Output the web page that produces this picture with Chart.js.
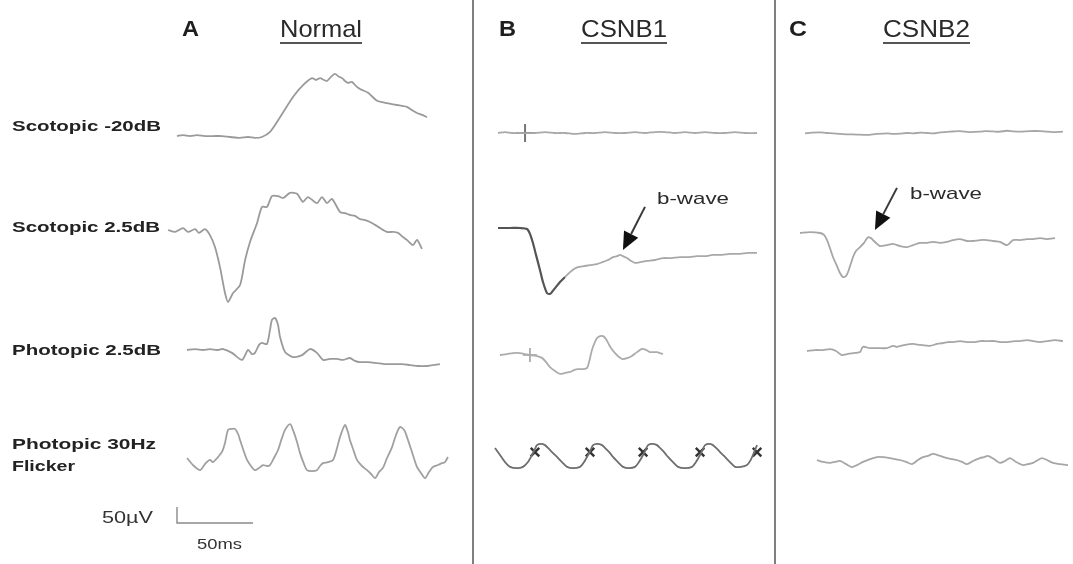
<!DOCTYPE html>
<html>
<head>
<meta charset="utf-8">
<title>ERG: Normal, CSNB1, CSNB2</title>
<script src="https://cdn.jsdelivr.net/npm/chart.js@4.4.1/dist/chart.umd.min.js"></script>
<style>
  html, body { margin: 0; padding: 0; background: #fff; overflow: hidden; }
  #erg { display: block; }
</style>
</head>
<body>
<canvas id="erg" width="1073" height="564"></canvas>
<script>
// panels and rows
const panelLetters = ['A', 'B', 'C'];
const panelTitles = ['Normal', 'CSNB1', 'CSNB2'];
const rowLabels = [['Scotopic -20dB'], ['Scotopic 2.5dB'], ['Photopic 2.5dB'], ['Photopic 30Hz', 'Flicker']];

// traces: [time in ms from trace start, amplitude in µV from baseline]
const normalScot20 = [[0,3],[3.9,6],[8.6,3],[13.2,6],[18.4,3],[23.7,3],[29.6,3],[34.9,0],[41.4,-3],[46.7,0],[51.3,-3],[55.9,0],[61.2,16],[67.8,62],[76.3,125],[82.9,162],[88.8,184],[91.4,178],[94.1,184],[96.7,178],[98.7,175],[101.3,188],[103.9,197],[106.6,188],[108.6,184],[110.5,175],[112.5,169],[115.1,172],[117.8,159],[120.4,150],[125.7,138],[131.6,113],[134.9,109],[138.2,106],[141.4,103],[144.7,100],[148.0,97],[151.3,94],[154.6,84],[157.9,75],[161.2,69],[164.5,62]];
const normalScot25 = [[0,0],[4.6,-6],[9.9,6],[13.2,-6],[17.8,3],[20.4,-9],[24.3,3],[27.6,-16],[30.9,-53],[34.2,-116],[37.5,-197],[39.5,-225],[42.8,-197],[47.4,-172],[50.7,-94],[53.9,-38],[58.6,22],[61.8,72],[65.1,72],[68.4,106],[72.4,106],[75.7,100],[80.3,116],[84.9,113],[88.8,88],[92.1,103],[98.0,84],[101.3,103],[104.6,84],[107.9,97],[113.2,56],[116.4,53],[119.7,47],[123.0,44],[126.3,34],[129.6,31],[132.9,25],[136.2,16],[139.5,6],[144.1,-6],[148.0,-6],[151.3,-9],[154.6,-22],[157.2,-31],[161.2,-47],[163.8,-31],[167.1,-59]];
const normalPhot25 = [[0,0],[5.3,3],[10.5,0],[15.1,3],[19.7,0],[23.7,3],[29.6,-9],[36.2,-31],[40.1,0],[42.8,-13],[44.7,-9],[47.4,16],[49.3,22],[52.6,19],[54.6,63],[55.9,94],[57.9,100],[59.9,78],[61.2,41],[64.5,-6],[69.7,-22],[75.7,-16],[80.9,3],[85.5,-9],[89.5,-31],[94.1,-28],[98.7,-28],[102.6,-31],[107.2,-25],[110.5,-34],[113.8,-38],[119.1,-38],[125.0,-41],[130.3,-44],[135.5,-44],[141.4,-44],[146.7,-47],[151.9,-50],[157.9,-50],[161.8,-47],[166.4,-44]];
const normalFlicker = [[0,0],[3.9,-22],[8.6,-38],[11.8,-19],[15.1,-6],[17.1,-13],[20.4,3],[23.0,19],[25.0,47],[27.0,88],[29.6,91],[31.6,91],[33.6,75],[34.9,56],[37.5,19],[39.5,-6],[42.1,-25],[44.7,-38],[47.4,-31],[50.0,-22],[52.6,-25],[54.6,-22],[57.2,0],[59.9,25],[62.5,63],[64.5,88],[67.8,106],[69.7,88],[72.4,50],[74.3,16],[77.0,-19],[78.9,-38],[82.2,-41],[85.5,-38],[87.5,-25],[89.5,-16],[92.8,-13],[96.1,-6],[98.7,31],[100.7,66],[103.9,103],[105.9,81],[107.2,56],[109.9,19],[111.8,-6],[115.1,-25],[118.4,-38],[121.1,-50],[123.7,-63],[126.3,-44],[128.9,-31],[131.6,0],[134.9,34],[137.5,72],[140.1,97],[142.8,88],[144.7,66],[148.0,19],[151.3,-28],[153.9,-47],[156.6,-63],[159.2,-44],[161.8,-28],[165.1,-22],[167.8,-16],[169.7,-13],[171.7,3]];

const csnb1Scot20 = [[0,0],[4.6,3],[9.2,0],[14.5,0],[24.3,0],[30.9,3],[37.5,0],[44.1,0],[50.7,-3],[57.2,0],[63.8,0],[70.4,3],[77.0,0],[83.6,0],[90.1,3],[96.7,0],[103.3,3],[109.9,3],[116.4,0],[123.0,3],[129.6,0],[136.2,3],[142.8,0],[149.3,0],[155.9,3],[162.5,0],[170.4,0]];
const csnb1Scot25 = [[0,0],[7.9,0],[14.5,0],[19.1,-3],[21.1,-19],[23.0,-47],[25.0,-84],[27.6,-131],[29.6,-169],[32.2,-203],[34.2,-206],[35.5,-200],[38.2,-184],[40.8,-169],[44.1,-153],[47.4,-138],[50.0,-128],[52.6,-122],[56.6,-119],[60.5,-116],[65.1,-113],[69.1,-106],[72.4,-100],[75.7,-91],[78.3,-88],[80.3,-84],[82.2,-88],[84.9,-94],[87.5,-103],[90.1,-109],[94.1,-106],[98.0,-103],[103.3,-100],[108.6,-94],[113.8,-94],[119.7,-91],[125.7,-91],[130.9,-88],[136.2,-88],[141.4,-84],[147.4,-84],[152.6,-81],[159.2,-81],[164.5,-78],[170.4,-78]];
const csnb1Phot25 = [[0,0],[4.6,3],[8.6,6],[13.2,6],[16.4,3],[19.1,0],[23.7,-3],[27.6,-9],[30.3,-22],[32.9,-38],[36.2,-50],[39.5,-59],[42.8,-56],[46.1,-53],[48.7,-47],[51.3,-44],[54.6,-44],[57.2,-41],[58.6,-22],[60.5,16],[62.5,41],[63.8,53],[65.8,59],[67.8,59],[69.7,50],[71.1,38],[73.0,22],[75.7,6],[78.3,-6],[80.9,-13],[84.2,-9],[86.8,-3],[90.1,9],[93.4,19],[96.1,16],[98.7,9],[100.7,9],[103.3,9],[105.3,6],[107.2,3]];
const csnb1Flicker = [[0,25],[3.3,3],[6.6,-19],[9.9,-34],[14.5,-38],[18.4,-34],[21.7,-19],[24.3,3],[26.3,22],[27.6,34],[30.3,38],[32.9,34],[35.5,22],[38.2,9],[40.8,-3],[44.1,-19],[47.4,-34],[51.3,-38],[55.9,-34],[58.6,-19],[61.2,3],[63.2,22],[64.5,34],[67.1,38],[70.4,34],[73.0,22],[75.7,9],[77.6,-3],[80.9,-19],[84.2,-34],[88.2,-38],[92.1,-34],[94.7,-19],[97.4,3],[99.3,22],[100.7,34],[103.3,38],[106.6,34],[109.2,22],[111.8,9],[113.8,-3],[117.1,-19],[120.4,-34],[125.0,-38],[129.6,-34],[132.2,-19],[134.9,3],[136.8,22],[138.2,34],[140.8,38],[143.4,34],[146.1,22],[148.7,9],[151.3,-3],[154.6,-19],[157.9,-34],[161.8,-34],[165.8,-28],[167.8,-16],[169.7,3],[171.1,19],[172.4,34]];

const csnb2Scot20 = [[0,-1],[4.6,1],[9.9,2],[14.0,0],[18.4,-1],[23.0,-3],[27.6,-4],[34.0,-5],[40.8,-6],[47.0,-3],[53.9,-1],[58.0,-3],[62.5,-2],[67.0,0],[71.1,-1],[76.0,1],[80.3,0],[84.5,-1],[88.8,2],[95.0,4],[102.0,6],[108.0,3],[115.1,4],[119.0,6],[123.7,5],[128.0,4],[132.9,7],[137.0,5],[141.4,4],[148.0,6],[154.6,6],[159.0,4],[163.2,3],[169.7,4]];
const csnb2Scot25 = [[0,0],[6.6,3],[13.2,0],[15.8,-6],[17.8,-22],[19.7,-47],[21.7,-75],[24.3,-103],[26.3,-125],[28.3,-138],[30.3,-134],[31.6,-122],[33.6,-94],[34.9,-75],[36.8,-56],[39.5,-44],[42.1,-31],[44.7,-13],[46.7,-16],[48.0,-22],[50.7,-34],[52.6,-41],[57.2,-38],[61.2,-34],[65.8,-41],[70.4,-44],[74.3,-38],[78.9,-31],[83.6,-31],[87.5,-28],[92.1,-31],[96.7,-28],[100.7,-22],[105.3,-19],[109.9,-25],[113.8,-25],[118.4,-22],[123.0,-22],[127.0,-25],[131.6,-28],[136.2,-38],[140.1,-22],[144.7,-22],[149.3,-19],[153.3,-19],[157.9,-16],[162.5,-19],[167.8,-16]];
const csnb2Phot25 = [[0,0],[5.3,3],[10.5,3],[15.1,6],[19.1,0],[23.0,-13],[27.0,-9],[31.6,-6],[34.9,-3],[36.8,13],[41.4,9],[46.1,9],[52.6,9],[56.6,16],[59.2,13],[64.5,19],[69.7,22],[74.3,19],[80.9,16],[85.5,22],[89.5,25],[92.8,28],[96.1,28],[100.7,31],[105.3,28],[110.5,28],[113.8,31],[118.4,31],[123.7,31],[127.0,28],[131.6,28],[136.8,31],[140.1,31],[144.7,34],[148.7,31],[153.3,28],[157.9,31],[163.2,34],[168.4,31]];
const csnb2Flicker = [[0,0],[3.9,-6],[8.6,-9],[11.8,-6],[15.1,-3],[19.1,-13],[23.0,-22],[26.3,-16],[30.3,-6],[34.9,3],[39.5,9],[43.4,9],[48.0,6],[51.3,3],[54.6,0],[58.6,-6],[62.5,-13],[66.4,0],[69.7,9],[73.0,13],[76.3,19],[80.9,13],[85.5,6],[88.8,3],[92.1,0],[95.4,-6],[98.7,-13],[102.6,-3],[107.2,6],[109.9,9],[112.5,13],[116.4,3],[120.4,-9],[123.7,-3],[127.0,6],[130.9,-6],[135.5,-16],[138.8,-13],[142.1,-9],[145.4,0],[148.0,6],[151.3,0],[155.3,-9],[159.9,-13],[165.1,-16]];

// stimulus artefacts, [ms, µV] in trace coordinates
const csnb1Scot20Artefact = [[17.8, 0]];
const csnb1Phot25Artefact = [[19.7, 0]];
const csnb1FlickerArtefacts = [[26.3, 12], [62.5, 12], [97.4, 12], [134.9, 12], [172.4, 12]];

// b-wave arrows: tail and tip in trace coordinates [ms, µV]
const csnb1Arrow = [[96.7, 66], [82.2, -69]];
const csnb2Arrow = [[63.8, 141], [49.3, 9]];

// scale bar
const scaleBarUV = 50;
const scaleBarMs = 50;

// ---- layout (pixels) ----
const W = 1073, H = 564;
const PX_PER_MS = 1.52;   // 50 ms = 76 px
const PX_PER_UV = 0.32;   // 50 µV = 16 px
const FONT = '"Liberation Sans", Arial, Helvetica, sans-serif';

const msAt = px => px / PX_PER_MS;
const uvAt = py => (H - py) / PX_PER_UV;

// trace origins [x, baseline y] per panel / row
const origins = [
	[[177, 137], [168, 230], [187, 350], [187, 458]],
	[[498, 133], [498, 228], [500, 355], [495, 456]],
	[[805, 133], [800, 233], [807, 351], [817, 460]]
];
const traces = [
	[normalScot20, normalScot25, normalPhot25, normalFlicker],
	[csnb1Scot20, csnb1Scot25, csnb1Phot25, csnb1Flicker],
	[csnb2Scot20, csnb2Scot25, csnb2Phot25, csnb2Flicker]
];
const traceColors = [
	['#9a9a9a', '#9a9a9a', '#9a9a9a', '#a0a0a0'],
	['#a8a8a8', '#a8a8a8', '#acacac', '#6e6e6e'],
	['#a6a6a6', '#a6a6a6', '#a6a6a6', '#a6a6a6']
];

function place( pts, origin ) {
	const x0 = msAt( origin[0] );
	const y0 = uvAt( origin[1] );
	return pts.map( p => ( {x: x0 + p[0], y: y0 + p[1]} ) );
}

const datasets = [];

traces.forEach( function ( row, pi ) {
	row.forEach( function ( pts, ri ) {
		const ds = {
			data: place( pts, origins[pi][ri] ),
			showLine: true,
			borderColor: traceColors[pi][ri],
			borderWidth: 1.8,
			pointRadius: 0,
			tension: 0.25,
			clip: false
		};
		// darker a-wave on the CSNB1 bright flash trace
		if ( pi === 1 && ri === 1 ) {
			ds.segment = {
				borderColor: ctx => ( ctx.p0.parsed.x - msAt( origins[1][1][0] ) < 44 ? '#555' : '#a8a8a8' ),
				borderWidth: ctx => ( ctx.p0.parsed.x - msAt( origins[1][1][0] ) < 44 ? 2.2 : 1.8 )
			};
		}
		datasets.push( ds );
	} );
} );

// artefact marks
datasets.push( {
	data: place( csnb1Scot20Artefact, origins[1][0] ),
	showLine: false, pointStyle: 'cross', pointRadius: 9,
	pointBorderColor: '#777', pointBorderWidth: 2, clip: false
} );
datasets.push( {
	data: place( csnb1Phot25Artefact, origins[1][2] ),
	showLine: false, pointStyle: 'cross', pointRadius: 7,
	pointBorderColor: '#a0a0a0', pointBorderWidth: 1.6, clip: false
} );
datasets.push( {
	data: place( csnb1FlickerArtefacts, origins[1][3] ),
	showLine: false, pointStyle: 'crossRot', pointRadius: 6,
	pointBorderColor: '#333', pointBorderWidth: 2.4, clip: false
} );

// panel dividers
[473, 775].forEach( function ( px ) {
	datasets.push( {
		data: [{x: msAt( px ), y: uvAt( 0 )}, {x: msAt( px ), y: uvAt( H )}],
		showLine: true, borderColor: '#555', borderWidth: 1.5, pointRadius: 0, clip: false
	} );
} );

// scale bar, corner at (177, 523)
const barX = msAt( 177 ), barY = uvAt( 523 );
datasets.push( {
	data: [{x: barX, y: barY + scaleBarUV}, {x: barX, y: barY}, {x: barX + scaleBarMs, y: barY}],
	showLine: true, borderColor: '#8a8a8a', borderWidth: 1.4, pointRadius: 0, tension: 0, clip: false
} );

function fitText( ctx, str, left, midY, font, width, color ) {
	ctx.save();
	ctx.font = font;
	ctx.fillStyle = color;
	ctx.textBaseline = 'middle';
	ctx.textAlign = 'left';
	const w = ctx.measureText( str ).width;
	ctx.translate( left, midY );
	ctx.scale( width / w, 1 );
	ctx.fillText( str, 0, 0 );
	ctx.restore();
}

const textPlugin = {
	id: 'ergText',
	afterDatasetsDraw( chart ) {
		const ctx = chart.ctx;
		const xs = chart.scales.x, ys = chart.scales.y;

		// panel letters and underlined titles
		const letterX = [[182, 17], [499, 17], [789, 18]];
		const titleX = [[280, 82], [581, 86], [883, 87]];
		panelLetters.forEach( function ( l, i ) {
			fitText( ctx, l, letterX[i][0], 30, 'bold 22px ' + FONT, letterX[i][1], '#1e1e1e' );
		} );
		panelTitles.forEach( function ( t, i ) {
			fitText( ctx, t, titleX[i][0], 30, '24px ' + FONT, titleX[i][1], '#2a2a2a' );
			ctx.save();
			ctx.strokeStyle = '#555';
			ctx.lineWidth = 2;
			ctx.beginPath();
			ctx.moveTo( titleX[i][0], 43 );
			ctx.lineTo( titleX[i][0] + titleX[i][1], 43 );
			ctx.stroke();
			ctx.restore();
		} );

		// row labels
		const rowPos = [[[127, 149]], [[228, 148]], [[351, 149]], [[445, 144], [467, 63]]];
		rowLabels.forEach( function ( lines, r ) {
			lines.forEach( function ( s, k ) {
				fitText( ctx, s, 12, rowPos[r][k][0], 'bold 15px ' + FONT, rowPos[r][k][1], '#222' );
			} );
		} );

		// scale bar labels
		fitText( ctx, scaleBarUV + '\u00b5V', 102, 519, '16px ' + FONT, 51, '#333' );
		fitText( ctx, scaleBarMs + 'ms', 197, 545, '15px ' + FONT, 45, '#333' );

		// b-wave arrows and labels
		const arrows = [[csnb1Arrow, origins[1][1], 657, 199], [csnb2Arrow, origins[2][1], 910, 194]];
		arrows.forEach( function ( a ) {
			const pts = place( a[0], a[1] );
			const x1 = xs.getPixelForValue( pts[0].x ), y1 = ys.getPixelForValue( pts[0].y );
			const x2 = xs.getPixelForValue( pts[1].x ), y2 = ys.getPixelForValue( pts[1].y );
			const ang = Math.atan2( y2 - y1, x2 - x1 );
			const headLen = 18, headHalf = 8;
			const bx = x2 - headLen * Math.cos( ang ), by = y2 - headLen * Math.sin( ang );
			ctx.save();
			ctx.strokeStyle = '#3a3a3a';
			ctx.fillStyle = '#111';
			ctx.lineWidth = 2;
			ctx.beginPath();
			ctx.moveTo( x1, y1 );
			ctx.lineTo( bx, by );
			ctx.stroke();
			ctx.beginPath();
			ctx.moveTo( x2, y2 );
			ctx.lineTo( bx + headHalf * Math.sin( ang ), by - headHalf * Math.cos( ang ) );
			ctx.lineTo( bx - headHalf * Math.sin( ang ), by + headHalf * Math.cos( ang ) );
			ctx.closePath();
			ctx.fill();
			ctx.restore();

			fitText( ctx, 'b-wave', a[2], a[3], '17px ' + FONT, 72, '#2a2a2a' );
		} );
	}
};

new Chart( document.getElementById( 'erg' ), {
	type: 'scatter',
	data: {datasets},
	options: {
		responsive: false,
		animation: false,
		events: [],
		layout: {padding: 0, autoPadding: false},
		plugins: {legend: {display: false}, tooltip: {enabled: false}},
		scales: {
			x: {type: 'linear', display: false, min: 0, max: msAt( W )},
			y: {type: 'linear', display: false, min: 0, max: uvAt( 0 )}
		}
	},
	plugins: [textPlugin]
} );
</script>
</body>
</html>
